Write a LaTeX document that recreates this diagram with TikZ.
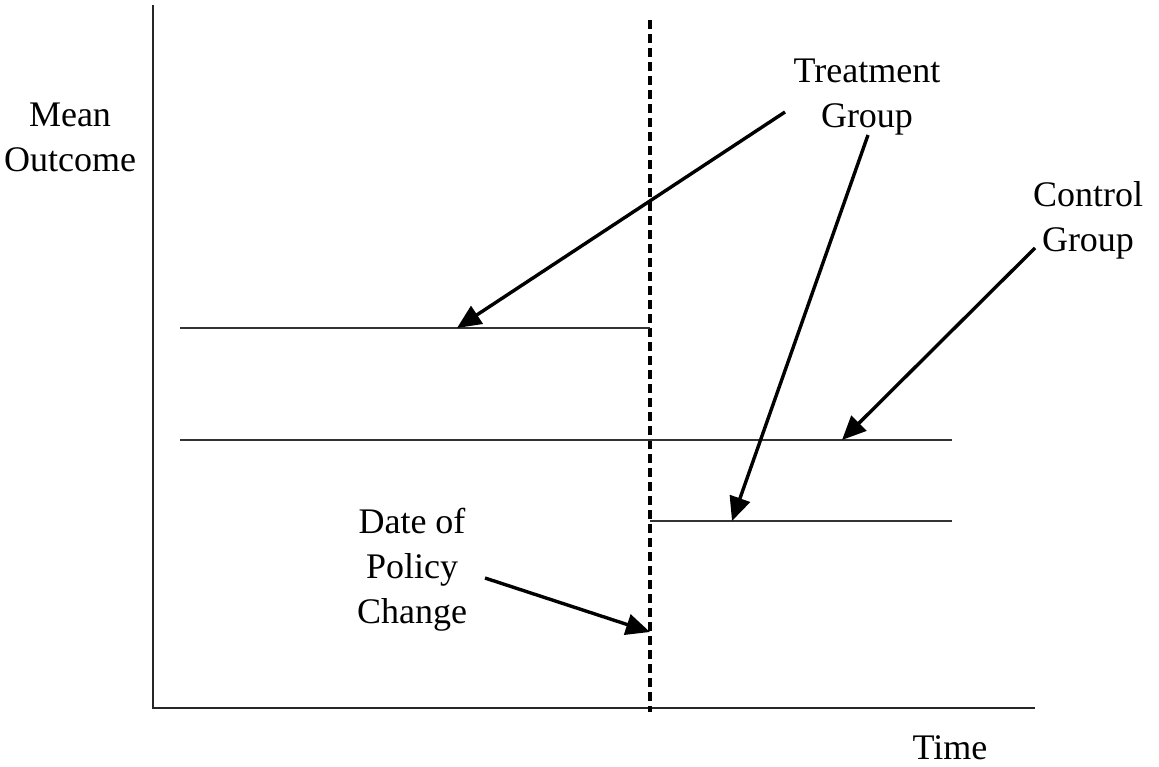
\documentclass[tikz,border=0pt]{standalone}
\usepackage{fontspec}
\setmainfont{Liberation Serif}
\usetikzlibrary{arrows.meta}
\begin{document}
\begin{tikzpicture}[x=1pt,y=-1pt,
  lbl/.style={align=center,inner sep=0pt,font=\fontsize{36}{45}\selectfont},
  plotline/.style={line width=2.4pt,black!80},
  axisline/.style={line width=2.4pt,black!85},
  pointer/.style={line width=3.4pt,-{Triangle[length=24pt,width=21pt]}},
  policy/.style={line width=3.4pt,dash pattern=on 9pt off 5pt}]
\useasboundingbox (0,0) rectangle (1159,766);
% axes
\coordinate (ytop) at (153,5);
\coordinate (orig) at (153,708);
\coordinate (xend) at (1035,708);
\draw[axisline] (ytop) -- (orig) -- (xend);
% dashed policy line
\coordinate (dtop) at (650,20);
\coordinate (dbot) at (650,712);
\draw[policy] (dtop) -- (dbot);
% group lines
\coordinate (tpreA) at (180,328);
\coordinate (tpreB) at (650,328);
\coordinate (ctlA) at (180,440);
\coordinate (ctlB) at (952,440);
\coordinate (tpostA) at (650,521);
\coordinate (tpostB) at (952,521);
\draw[plotline] (tpreA) -- (tpreB);
\draw[plotline] (ctlA) -- (ctlB);
\draw[plotline] (tpostA) -- (tpostB);
% labels
\node[lbl] (mean) at (70,137) {Mean\\Outcome};
\node[lbl] (treat) at (867,97) {Treatment\\Group};
\node[lbl] (ctl) at (1088,220) {Control\\Group};
\node[lbl] (date) at (412,570) {Date of\\Policy\\Change};
\node[lbl] (time) at (950,748) {Time};
% arrows
\coordinate (a1s) at (785,112);
\coordinate (a1e) at (457,328);
\coordinate (a2s) at (868,135);
\coordinate (a2e) at (732,521);
\coordinate (a3s) at (1035,248);
\coordinate (a3e) at (842,440);
\coordinate (a4s) at (485,578);
\coordinate (a4e) at (650,632);
\draw[pointer] (a1s) -- (a1e);
\draw[pointer] (a2s) -- (a2e);
\draw[pointer] (a3s) -- (a3e);
\draw[pointer] (a4s) -- (a4e);
\end{tikzpicture}
\end{document}
